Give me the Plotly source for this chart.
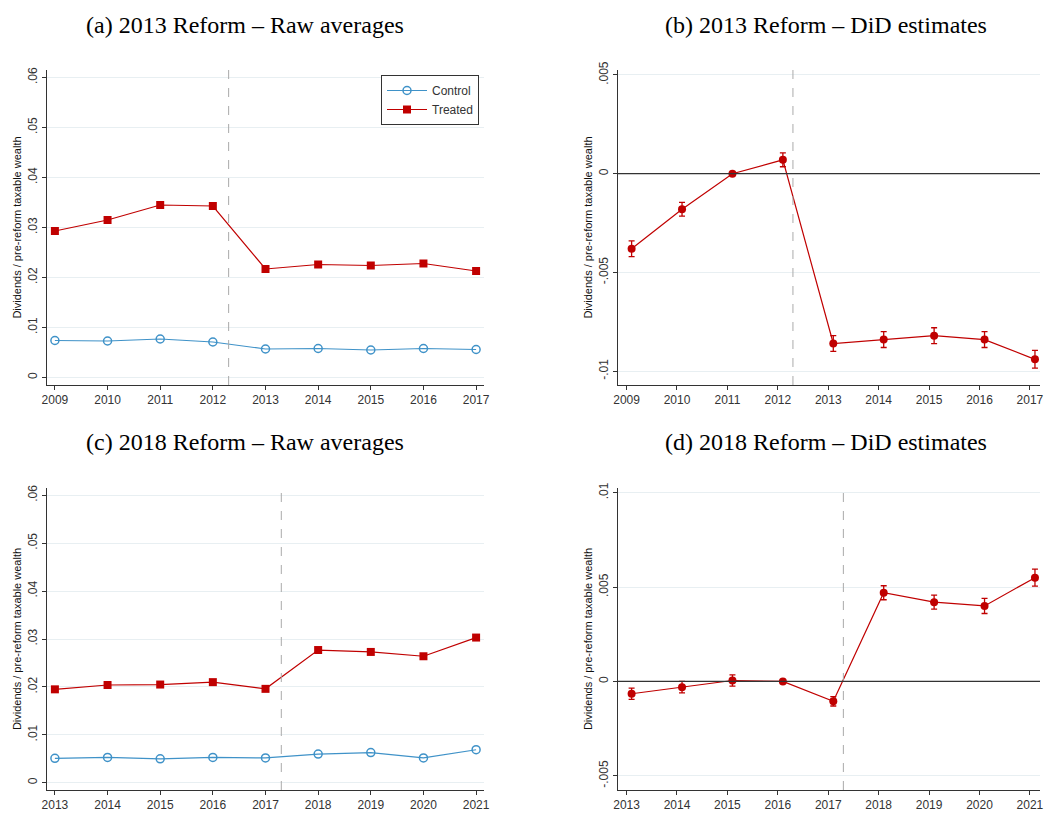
import plotly.graph_objects as go

years_a = [2009, 2010, 2011, 2012, 2013, 2014, 2015, 2016, 2017]
years_c = [2013, 2014, 2015, 2016, 2017, 2018, 2019, 2020, 2021]

treated_a = [0.0293, 0.0315, 0.0345, 0.0343, 0.0217, 0.0226, 0.0224, 0.0228, 0.0213]
control_a = [0.0074, 0.0073, 0.0077, 0.0071, 0.0057, 0.0058, 0.0055, 0.0058, 0.0056]
treated_c = [0.0195, 0.0204, 0.0205, 0.0210, 0.0196, 0.0277, 0.0273, 0.0264, 0.0303]
control_c = [0.0051, 0.0053, 0.0050, 0.0053, 0.0052, 0.0060, 0.0063, 0.0052, 0.0069]

did_b = [-0.0038, -0.0018, 0.0, 0.0007, -0.0086, -0.0084, -0.0082, -0.0084, -0.0094]
err_b = [0.0004, 0.00035, 0.0, 0.00035, 0.0004, 0.0004, 0.0004, 0.0004, 0.00045]
did_d = [-0.00065, -0.0003, 0.00005, 0.0, -0.00105, 0.0047, 0.0042, 0.0040, 0.0055]
err_d = [0.0003, 0.0003, 0.0003, 0.0, 0.00025, 0.00037, 0.00037, 0.0004, 0.00045]

raw_ticks = [0, 0.01, 0.02, 0.03, 0.04, 0.05, 0.06]
raw_text = ["0", ".01", ".02", ".03", ".04", ".05", ".06"]
b_ticks = [-0.01, -0.005, 0, 0.005]
b_text = ["-.01", "-.005", "0", ".005"]
d_ticks = [-0.005, 0, 0.005, 0.01]
d_text = ["-.005", "0", ".005", ".01"]

titles = ["(a) 2013 Reform – Raw averages", "(b) 2013 Reform – DiD estimates",
          "(c) 2018 Reform – Raw averages", "(d) 2018 Reform – DiD estimates"]

OFF = 8  # page body margin
W, H = 1060 - 2 * OFF, 823 - 2 * OFF
BLUE = "#3f92c8"
RED = "#c00000"

fig = go.Figure()

def px_x(a, b):
    return [(a - OFF) / W, min(1.0, (b - OFF) / W)]

def px_y(top, bot):
    return [max(0.0, 1 - (bot - OFF) / H), 1 - (top - OFF) / H]

panels = [
    dict(xd=px_x(47, 484), yd=px_y(70, 385), xr=[2008.85, 2017.15], yr=[-0.0015, 0.0615], yt=raw_ticks, ytt=raw_text, vline=2012.3, ty=10),
    dict(xd=px_x(618, 1040), yd=px_y(70, 385), xr=[2008.83, 2017.2], yr=[-0.0107, 0.00525], yt=b_ticks, ytt=b_text, vline=2012.3, ty=10),
    dict(xd=px_x(47, 484), yd=px_y(488, 790), xr=[2012.85, 2021.15], yr=[-0.0015, 0.0615], yt=raw_ticks, ytt=raw_text, vline=2017.3, ty=427),
    dict(xd=px_x(618, 1040), yd=px_y(488, 790), xr=[2012.83, 2021.2], yr=[-0.00575, 0.01025], yt=d_ticks, ytt=d_text, vline=2017.3, ty=427),
]
title_cx = [245, 826, 245, 826]

for i, p in enumerate(panels):
    n = "" if i == 0 else str(i + 1)
    xa, ya = "x" + n, "y" + n
    fig.update_layout(**{
        "xaxis" + n: dict(domain=p["xd"], range=p["xr"], anchor=ya, tickvals=(years_a if i < 2 else years_c), automargin=False,
                          showline=True, linecolor="#333", linewidth=1, ticks="outside", ticklen=4, tickcolor="#333",
                          showgrid=False, zeroline=False, tickfont=dict(family="Arial, Liberation Sans", size=12, color="#333")),
        "yaxis" + n: dict(domain=p["yd"], range=p["yr"], anchor=xa, tickvals=p["yt"], ticktext=p["ytt"], tickangle=-90, automargin=False,
                          showline=True, linecolor="#333", linewidth=1, ticks="outside", ticklen=4, tickcolor="#333",
                          showgrid=True, gridcolor="#e8eff2", zeroline=False,
                          title=dict(text="Dividends / pre-reform taxable wealth", font=dict(size=11, color="#111", family="Arial, Liberation Sans"), standoff=2),
                          tickfont=dict(family="Arial, Liberation Sans", size=12, color="#333")),
    })
    fig.add_shape(type="line", xref=xa, yref=ya + " domain", x0=p["vline"], x1=p["vline"], y0=0, y1=1,
                  line=dict(color="#aaaaaa", width=1, dash="dash"))
    if i in (1, 3):
        fig.add_shape(type="line", xref=xa + " domain", yref=ya, x0=0, x1=1, y0=0, y1=0, line=dict(color="#333", width=1.2))
    fig.add_annotation(text=titles[i], xref="paper", yref="paper", x=(title_cx[i] - OFF) / W, y=1 - (p["ty"] - OFF) / H,
                       yanchor="top", xanchor="center", showarrow=False,
                       font=dict(family="Liberation Serif, Times New Roman", size=24, color="#000"))

def raw(xs, ctrl, trt, xa, ya, legend):
    fig.add_trace(go.Scatter(x=xs, y=ctrl, xaxis=xa, yaxis=ya, mode="lines+markers", name="Control", showlegend=legend,
                             line=dict(color=BLUE, width=1.2), marker=dict(symbol="circle-open", size=8, color=BLUE, line=dict(width=1.5))))
    fig.add_trace(go.Scatter(x=xs, y=trt, xaxis=xa, yaxis=ya, mode="lines+markers", name="Treated", showlegend=legend,
                             line=dict(color=RED, width=1.2), marker=dict(symbol="square", size=8, color=RED)))

def did(xs, v, e, xa, ya):
    fig.add_trace(go.Scatter(x=[x + 0.1 for x in xs], y=v, xaxis=xa, yaxis=ya, mode="lines+markers", showlegend=False,
                             line=dict(color=RED, width=1.2), marker=dict(symbol="circle", size=8, color=RED), cliponaxis=False,
                             error_y=dict(type="data", array=e, color=RED, thickness=1.3, width=3)))

raw(years_a, control_a, treated_a, "x", "y", True)
did(years_a, did_b, err_b, "x2", "y2")
raw(years_c, control_c, treated_c, "x3", "y3", False)
did(years_c, did_d, err_d, "x4", "y4")

fig.update_layout(width=W, height=H, margin=dict(l=0, r=0, t=0, b=0, autoexpand=False), plot_bgcolor="white", paper_bgcolor="white",
                  legend=dict(x=(479 - OFF) / W, y=1 - (75 - OFF) / H, xanchor="right", yanchor="top", bordercolor="#333", borderwidth=1,
                              font=dict(family="Arial, Liberation Sans", size=12, color="#333"), bgcolor="white",
                              tracegroupgap=0, itemwidth=40))
fig.write_html("out.html")
